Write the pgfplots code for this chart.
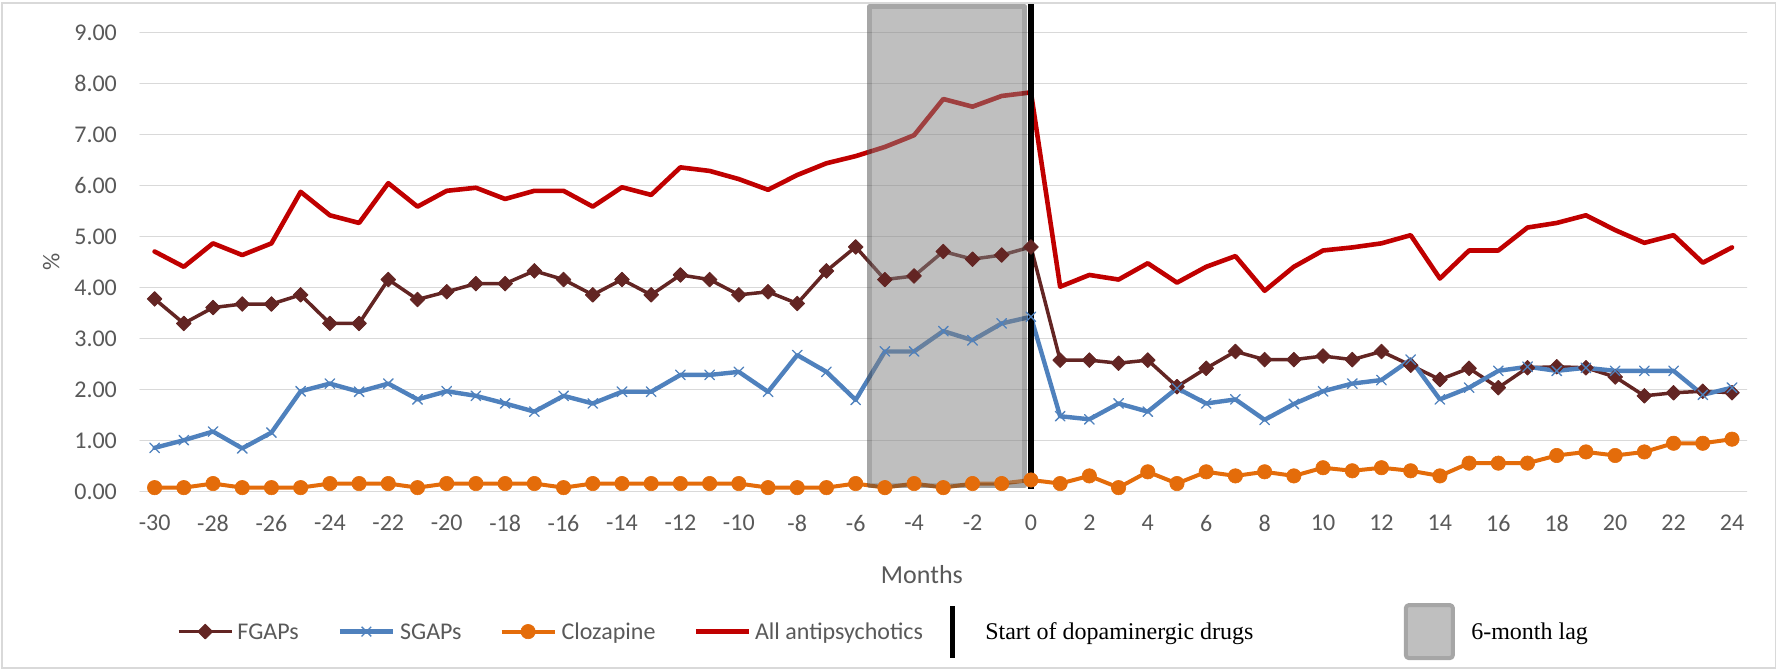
\documentclass[border=0pt]{standalone}
\usepackage{pgfplots}
\usepackage{pgfplotstable}
\pgfplotsset{compat=1.18}
\usepackage{fontspec}
\setmainfont{Carlito}
\newfontfamily\timesfont{Liberation Serif}
\definecolor{fgap}{HTML}{632523}
\definecolor{sgap}{HTML}{4F81BD}
\definecolor{cloz}{HTML}{E46C0A}
\definecolor{allap}{HTML}{C00000}
\definecolor{txt}{HTML}{595959}
\definecolor{gridc}{HTML}{D9D9D9}
\definecolor{lagfill}{HTML}{BFBFBF}
\definecolor{lagdraw}{HTML}{A6A6A6}
\definecolor{lagfillT}{HTML}{808080}
\definecolor{lagdrawT}{HTML}{4D4D4D}

\pgfplotstableread{
m   fg   sg   cl   al
-30 3.78 0.86 0.08 4.71
-29 3.30 1.01 0.08 4.41
-28 3.61 1.18 0.16 4.87
-27 3.68 0.85 0.08 4.64
-26 3.68 1.16 0.08 4.87
-25 3.86 1.97 0.08 5.88
-24 3.30 2.12 0.16 5.42
-23 3.30 1.96 0.16 5.27
-22 4.16 2.12 0.16 6.05
-21 3.77 1.81 0.08 5.59
-20 3.92 1.97 0.16 5.90
-19 4.08 1.88 0.16 5.96
-18 4.08 1.73 0.16 5.74
-17 4.33 1.57 0.16 5.90
-16 4.16 1.88 0.08 5.90
-15 3.86 1.73 0.16 5.59
-14 4.16 1.96 0.16 5.97
-13 3.86 1.96 0.16 5.82
-12 4.25 2.29 0.16 6.36
-11 4.16 2.29 0.16 6.29
-10 3.86 2.35 0.16 6.13
-9  3.92 1.96 0.08 5.92
-8  3.69 2.68 0.08 6.21
-7  4.33 2.35 0.08 6.44
-6  4.80 1.80 0.16 6.58
-5  4.16 2.75 0.08 6.76
-4  4.23 2.75 0.16 6.99
-3  4.71 3.15 0.08 7.70
-2  4.56 2.97 0.16 7.55
-1  4.64 3.30 0.16 7.76
0   4.80 3.43 0.23 7.83
1   2.58 1.48 0.16 4.02
2   2.58 1.42 0.31 4.25
3   2.52 1.73 0.08 4.16
4   2.58 1.57 0.39 4.48
5   2.06 2.03 0.16 4.10
6   2.42 1.73 0.39 4.41
7   2.75 1.81 0.31 4.62
8   2.59 1.41 0.39 3.94
9   2.59 1.72 0.31 4.41
10  2.66 1.97 0.47 4.73
11  2.59 2.12 0.41 4.79
12  2.75 2.19 0.47 4.87
13  2.48 2.59 0.41 5.03
14  2.20 1.81 0.31 4.18
15  2.42 2.04 0.56 4.73
16  2.04 2.37 0.56 4.73
17  2.43 2.45 0.56 5.18
18  2.45 2.37 0.71 5.27
19  2.43 2.43 0.78 5.42
20  2.25 2.37 0.71 5.13
21  1.88 2.37 0.78 4.88
22  1.94 2.37 0.95 5.03
23  1.97 1.90 0.95 4.49
24  1.94 2.04 1.03 4.79
}\datatable

\pgfplotsset{
  lineleg/.style 2 args={legend image code/.code={
      \path (-#1,3.85pt) (26.5pt+#2,3.85pt);
      \draw[mark repeat=2,mark phase=2,##1] plot coordinates {(0pt,3.85pt) (13.25pt,3.85pt) (26.5pt,3.85pt)};
  }},
}

\begin{document}
\begin{tikzpicture}
\path (-70pt,-89.65pt) rectangle (819pt,245.85pt);
\draw[gridc, line width=0.6pt] (-69pt,-88.15pt) rectangle (817.8pt,244.35pt);
\begin{axis}[
  at={(0,0)}, anchor=south west,
  scale only axis,
  width=803.3pt, height=229.5pt,
  xmin=-30.5, xmax=24.5, ymin=0, ymax=9,
  clip=false,
  axis line style={draw=none},
  tick style={draw=none},
  major tick length=0pt,
  ymajorgrids,
  grid style={gridc, line width=0.65pt},
  ytick={0,1,...,9},
  yticklabels={0.00,1.00,2.00,3.00,4.00,5.00,6.00,7.00,8.00,9.00},
  xtick={-30,-28,...,24},
  xticklabels={-30,-28,-26,-24,-22,-20,-18,-16,-14,-12,-10,-8,-6,-4,-2,0,2,4,6,8,10,12,14,16,18,20,22,24},
  yticklabel style={font=\fontsize{12}{14}\selectfont, text=txt, anchor=east, inner sep=0pt, xshift=-11.35pt},
  xticklabel style={font=\fontsize{12}{14}\selectfont, text=txt, anchor=north, inner sep=0pt, yshift=-11.65pt},
  xlabel={Months},
  xlabel style={at={(axis description cs:0.4867,0)}, anchor=center, inner sep=0pt, yshift=-41.4pt, font=\fontsize{13}{15}\selectfont, text=txt},
  legend columns=6,
  legend style={at={(0.02303,-0.24248)}, anchor=north west, draw=none, fill=none,
    inner sep=0pt, outer sep=0pt, column sep=0pt,
    font=\fontsize{12}{14}\selectfont, text=txt,
    nodes={inner sep=0pt, text depth=0pt}},
  legend cell align=left,
  every axis legend/.append style={cells={anchor=base west}},
  line join=round, line cap=round,
]
\addplot[fgap, line width=1.75pt, mark=square*, mark size=2.6pt, mark options={rotate=45, line width=0.4pt, fill=fgap}, lineleg={0pt}{2pt}]
  table[x=m, y=fg] {\datatable};
\addlegendentry{FGAPs}
\addplot[sgap, line width=2.2pt, mark=x, mark size=3.4pt, mark options={line width=0.65pt}, lineleg={19.5pt}{2.5pt}]
  table[x=m, y=sg] {\datatable};
\addlegendentry{SGAPs}
\addplot[cloz, line width=2pt, mark=*, mark size=3.6pt, mark options={line width=0.3pt, fill=cloz}, lineleg={19pt}{2.5pt}]
  table[x=m, y=cl] {\datatable};
\addlegendentry{Clozapine}
\addplot[allap, line width=2.3pt, no marks, lineleg={19pt}{2pt}]
  table[x=m, y=al] {\datatable};
\addlegendentry{All antipsychotics}
\addlegendimage{legend image code/.code={
   \path (-13.5pt,3.85pt) (2.5pt+14.75pt,3.85pt);
   \draw[black, line width=2.5pt, line cap=butt] (1.25pt,-9.2pt) -- (1.25pt,16.9pt);}}
\addlegendentry{\timesfont\color{black}Start of dopaminergic drugs}
\addlegendimage{legend image code/.code={
   \path (-75pt,3.85pt) (25.5pt+8pt,3.85pt);
   \draw[lagdraw, fill=lagfill, line width=2pt, rounded corners=1.5pt] (1pt,-9.4pt) rectangle (24.5pt,17.1pt);}}
\addlegendentry{\timesfont\color{black}6-month lag}
% 6-month lag shading
\fill[lagfillT, opacity=0.5] (axis cs:-5.437,0.165) rectangle (axis cs:-0.301,9.465);
\draw[lagdrawT, draw opacity=0.5, line width=2.5pt] (axis cs:-5.52,0.116) rectangle (axis cs:-0.216,9.514);
\draw[black, line width=2.6pt, line cap=butt] (axis cs:0,0.05) -- (axis cs:0,9.56);
\end{axis}
\node[rotate=90, font=\fontsize{12}{14}\selectfont, text=txt, inner sep=0pt] at (-44.35pt,114.75pt) {\%};
\end{tikzpicture}
\end{document}
